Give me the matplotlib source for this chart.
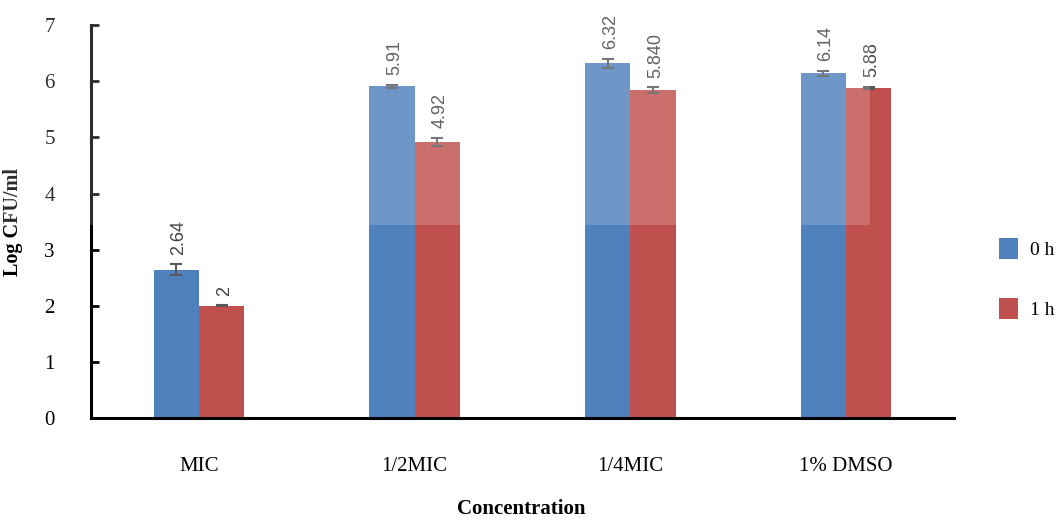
import matplotlib.pyplot as plt
import numpy as np
from matplotlib.patches import Rectangle

# data
categories = ['MIC', '1/2MIC', '1/4MIC', '1% DMSO']
h0_values = [2.64, 5.91, 6.32, 6.14]
h1_values = [2.00, 4.92, 5.84, 5.88]
h0_err = [0.10, 0.03, 0.08, 0.05]
h1_err = [0.01, 0.07, 0.05, 0.02]
h0_labels = ['2.64', '5.91', '6.32', '6.14']
h1_labels = ['2', '4.92', '5.840', '5.88']

blue = '#4F81BD'
red = '#C0504D'

fig = plt.figure(figsize=(10.56, 5.22), dpi=100)
ax = fig.add_axes([0.0862, 0.199, 0.817, 0.753])

x = np.arange(len(categories))
w = 0.21

ax.bar(x - w / 2, h0_values, w, color=blue, label='0 h', zorder=2)
ax.bar(x + w / 2, h1_values, w, color=red, label='1 h', zorder=2)
ax.errorbar(x - w / 2, h0_values, yerr=h0_err, fmt='none', ecolor='#595959',
            elinewidth=1.5, capsize=4, capthick=1.5, zorder=3)
ax.errorbar(x + w / 2, h1_values, yerr=h1_err, fmt='none', ecolor='#595959',
            elinewidth=1.5, capsize=4, capthick=1.5, zorder=3)

# rotated value labels above the error bars
for xi, v, e, t in zip(x - w / 2, h0_values, h0_err, h0_labels):
    ax.annotate(t, (xi, v + e), xytext=(2, 7), textcoords='offset points',
                rotation=90, ha='center', va='bottom', fontsize=13,
                color='#404040', family='Liberation Sans')
for xi, v, e, t in zip(x + w / 2, h1_values, h1_err, h1_labels):
    ax.annotate(t, (xi, v + e), xytext=(2, 7), textcoords='offset points',
                rotation=90, ha='center', va='bottom', fontsize=13,
                color='#404040', family='Liberation Sans')

ax.set_xlim(-0.5, 3.5)
ax.set_ylim(0, 7)
ax.set_yticks(range(0, 8))
ax.set_xticks(x)
ax.set_xticklabels(categories)

for s in ['top', 'right']:
    ax.spines[s].set_visible(False)
for s in ['left', 'bottom']:
    ax.spines[s].set_linewidth(2.2)
    ax.spines[s].set_color('black')

ax.tick_params(axis='y', direction='in', length=6, width=2, labelsize=15, pad=26)
ax.tick_params(axis='x', length=0, labelsize=15, pad=28)
for lbl in ax.get_xticklabels() + ax.get_yticklabels():
    lbl.set_family('Liberation Serif')

ax.set_ylabel('Log CFU/ml', fontsize=14.5, fontweight='bold', family='Liberation Serif')
ax.yaxis.set_label_coords(-0.079, 0.5)
fig.text(0.494, 0.024, 'Concentration', fontsize=15, fontweight='bold',
         family='Liberation Serif', ha='center', va='center')

ax.legend(loc='center left', bbox_to_anchor=(1.052, 0.356), frameon=False,
          borderaxespad=0, borderpad=0,
          handlelength=1.0, handleheight=1.3, labelspacing=2.0, handletextpad=0.6,
          prop={'family': 'Liberation Serif', 'size': 14})

# faded watermark area over the upper left of the picture
fig.patches.append(Rectangle((0, 0.569), 870 / 1056, 0.431, transform=fig.transFigure,
                             facecolor='white', alpha=0.18, edgecolor='none', zorder=10))

fig.savefig('out.png', dpi=100)
